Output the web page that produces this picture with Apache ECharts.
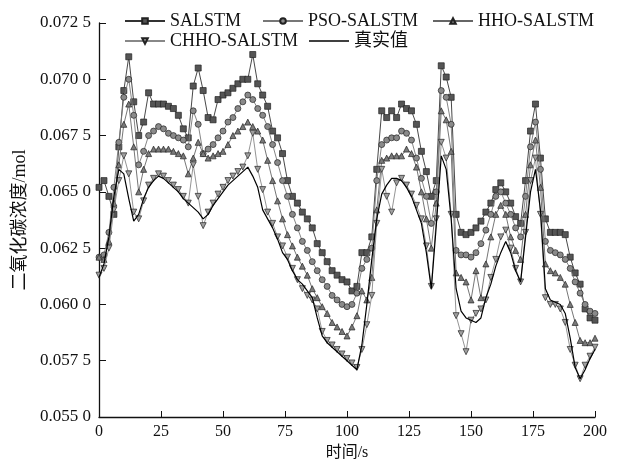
<!DOCTYPE html>
<html>
<head>
<meta charset="utf-8">
<script src="https://cdn.jsdelivr.net/npm/echarts@6/dist/echarts.min.js"></script>
<style>
html,body{margin:0;padding:0;background:#fff;}
#chart{width:622px;height:461px;}
</style>
</head>
<body>
<div id="chart"></div>
<script>
const time = [0,2,4,6,8,10,12,14,16,18,20,22,24,26,28,30,32,34,36,38,40,42,44,46,48,50,52,54,56,58,60,62,64,66,68,70,72,74,76,78,80,82,84,86,88,90,92,94,96,98,100,102,104,106,108,110,112,114,116,118,120,122,124,126,128,130,132,134,136,138,140,142,144,146,148,150,152,154,156,158,160,162,164,166,168,170,172,174,176,178,180,182,184,186,188,190,192,194,196,198,200];

const salstm = [0.0652,0.0655,0.0648,0.0640,0.0670,0.0695,0.0710,0.0690,0.0675,0.0681,0.0694,0.0689,0.0689,0.0689,0.0688,0.0687,0.0684,0.0678,0.0674,0.0697,0.0705,0.0695,0.0683,0.0682,0.0691,0.0693,0.0694,0.0696,0.0698,0.0700,0.0700,0.0711,0.0698,0.0693,0.0688,0.0677,0.0674,0.0667,0.0655,0.0648,0.0645,0.0641,0.0638,0.0634,0.0627,0.0623,0.0619,0.0615,0.0613,0.0611,0.0610,0.0606,0.0608,0.0623,0.0623,0.0630,0.0660,0.0686,0.0683,0.0686,0.0683,0.0689,0.0687,0.0686,0.0680,0.0668,0.0659,0.0648,0.0655,0.0706,0.0701,0.0692,0.0640,0.0632,0.0631,0.0632,0.0634,0.0637,0.0641,0.0645,0.0651,0.0654,0.0650,0.0645,0.0639,0.0636,0.0655,0.0677,0.0689,0.0665,0.0638,0.0632,0.0632,0.0632,0.0631,0.0621,0.0614,0.0609,0.0598,0.0594,0.0593];

const psoSalstm = [0.0621,0.0622,0.0632,0.0652,0.0672,0.0692,0.0700,0.0684,0.0662,0.0668,0.0675,0.0677,0.0679,0.0678,0.0676,0.0675,0.0674,0.0673,0.0670,0.0686,0.0680,0.0667,0.0669,0.0671,0.0674,0.0677,0.0681,0.0683,0.0687,0.0690,0.0693,0.0691,0.0687,0.0684,0.0679,0.0671,0.0663,0.0655,0.0648,0.0640,0.0634,0.0628,0.0624,0.0619,0.0615,0.0611,0.0608,0.0604,0.0602,0.0600,0.0599,0.0600,0.0605,0.0616,0.0620,0.0625,0.0655,0.0671,0.0673,0.0674,0.0674,0.0677,0.0676,0.0673,0.0665,0.0656,0.0648,0.0636,0.0650,0.0695,0.0692,0.0680,0.0624,0.0622,0.0622,0.0621,0.0623,0.0627,0.0633,0.0640,0.0648,0.0650,0.0645,0.0640,0.0634,0.0630,0.0648,0.0670,0.0681,0.0660,0.0628,0.0624,0.0623,0.0622,0.0620,0.0616,0.0610,0.0605,0.0600,0.0597,0.0596];

const hhoSalstm = [0.0621,0.0620,0.0628,0.0645,0.0662,0.0680,0.0689,0.0670,0.0650,0.0660,0.0667,0.0669,0.0669,0.0669,0.0669,0.0668,0.0667,0.0666,0.0658,0.0665,0.0672,0.0667,0.0665,0.0666,0.0667,0.0668,0.0671,0.0675,0.0677,0.0679,0.0681,0.0679,0.0677,0.0673,0.0664,0.0655,0.0646,0.0638,0.0631,0.0626,0.0621,0.0617,0.0613,0.0607,0.0603,0.0599,0.0596,0.0592,0.0590,0.0588,0.0586,0.0590,0.0595,0.0606,0.0602,0.0612,0.0642,0.0664,0.0665,0.0666,0.0666,0.0666,0.0669,0.0667,0.0661,0.0650,0.0638,0.0625,0.0645,0.0686,0.0682,0.0668,0.0614,0.0612,0.0610,0.0602,0.0615,0.0603,0.0618,0.0630,0.0640,0.0644,0.0640,0.0630,0.0624,0.0620,0.0640,0.0662,0.0673,0.0652,0.0618,0.0615,0.0614,0.0612,0.0609,0.0600,0.0592,0.0584,0.0583,0.0583,0.0585];

const chhoSalstm = [0.0613,0.0616,0.0625,0.0642,0.0655,0.0666,0.0658,0.0641,0.0638,0.0646,0.0653,0.0656,0.0658,0.0657,0.0655,0.0653,0.0651,0.0648,0.0645,0.0662,0.0648,0.0635,0.0641,0.0645,0.0649,0.0652,0.0655,0.0657,0.0659,0.0661,0.0666,0.0676,0.0660,0.0651,0.0641,0.0636,0.0630,0.0626,0.0621,0.0616,0.0611,0.0607,0.0604,0.0602,0.0598,0.0588,0.0584,0.0582,0.0580,0.0578,0.0576,0.0574,0.0572,0.0580,0.0591,0.0604,0.0636,0.0660,0.0648,0.0641,0.0654,0.0656,0.0653,0.0649,0.0644,0.0638,0.0626,0.0608,0.0638,0.0672,0.0665,0.0640,0.0595,0.0587,0.0579,0.0593,0.0596,0.0598,0.0602,0.0612,0.0620,0.0630,0.0633,0.0625,0.0616,0.0610,0.0632,0.0655,0.0665,0.0640,0.0603,0.0600,0.0600,0.0598,0.0592,0.0580,0.0573,0.0567,0.0573,0.0577,0.0581];

const actual = [0.0612,0.0618,0.0630,0.0648,0.0660,0.0658,0.0647,0.0637,0.0640,0.0647,0.0652,0.0655,0.0657,0.0656,0.0654,0.0652,0.0650,0.0647,0.0645,0.0643,0.0641,0.0638,0.0640,0.0644,0.0647,0.0650,0.0653,0.0655,0.0657,0.0659,0.0661,0.0657,0.0652,0.0642,0.0638,0.0634,0.0629,0.0623,0.0620,0.0615,0.0611,0.0609,0.0606,0.0603,0.0594,0.0586,0.0583,0.0581,0.0579,0.0577,0.0575,0.0573,0.0571,0.0582,0.0600,0.0620,0.0638,0.0649,0.0653,0.0656,0.0656,0.0655,0.0652,0.0648,0.0642,0.0636,0.0623,0.0607,0.0635,0.0666,0.0660,0.0638,0.0607,0.0597,0.0594,0.0593,0.0592,0.0594,0.0603,0.0609,0.0617,0.0623,0.0628,0.0623,0.0615,0.0610,0.0630,0.0650,0.0660,0.0642,0.0607,0.0602,0.0601,0.0600,0.0596,0.0585,0.0572,0.0567,0.0571,0.0576,0.0580];

function pairs(ys){ return time.map((t,i)=>[t, ys[i]]); }

const serif = '"Liberation Serif","Times New Roman","DejaVu Serif",serif';
const cjk = '"Liberation Serif","Noto Sans CJK SC",serif';

function lineSeries(name, ys, sym, lineColor, fill, rotate, size, z){
  return {
    name: name, type: 'line', data: pairs(ys),
    symbol: sym, symbolSize: size, symbolRotate: rotate || 0,
    showSymbol: true,
    lineStyle: {color: lineColor, width: 0.9},
    itemStyle: {color: fill, borderColor: '#222', borderWidth: 0.7},
    z: z, animation: false
  };
}

function legendAt(name, left, top, extra){
  return Object.assign({
    data: [name], left: left, top: top, itemWidth: 40, itemHeight: 7, itemGap: 0,
    textStyle: {fontFamily: cjk, fontSize: 18, color: '#111'},
    padding: 0
  }, extra || {});
}

const chart = echarts.init(document.getElementById('chart'), null, {renderer: 'canvas'});
chart.setOption({
  backgroundColor: '#fff',
  animation: false,
  legend: [
    legendAt('SALSTM', 124, 12),
    legendAt('PSO-SALSTM', 262, 12),
    legendAt('HHO-SALSTM', 432, 12),
    legendAt('CHHO-SALSTM', 124, 32),
    legendAt('真实值', 309, 32, {icon: 'rect', itemHeight: 1.3, itemStyle: {color: '#000'}})
  ],
  grid: {left: 99, right: 27, top: 23, bottom: 44, containLabel: false, outerBoundsMode: 'none'},
  xAxis: {
    type: 'value', min: 0, max: 200, interval: 25,
    name: '时间/s', nameLocation: 'middle', nameGap: 21,
    nameTextStyle: {fontFamily: cjk, fontSize: 16, color: '#111'},
    axisLine: {lineStyle: {color: '#111', width: 1.3}},
    axisTick: {inside: true, length: 6, lineStyle: {color: '#111'}},
    axisLabel: {fontFamily: serif, fontSize: 16, color: '#111', margin: 7},
    splitLine: {show: false}
  },
  yAxis: {
    type: 'value', min: 0.055, max: 0.0725, interval: 0.0025,
    name: '二氧化碳浓度/mol', nameLocation: 'middle', nameGap: 70, nameRotate: 90,
    nameTextStyle: {fontFamily: cjk, fontSize: 18, color: '#111'},
    axisLine: {show: true, lineStyle: {color: '#111', width: 1.3}},
    axisTick: {show: true, inside: true, length: 7, lineStyle: {color: '#111'}},
    axisLabel: {fontFamily: serif, fontSize: 17, color: '#111', margin: 8,
      formatter: function(v){ const s = v.toFixed(4); return s.slice(0,5) + ' ' + s.slice(5); }},
    splitLine: {show: false}
  },
  series: [
    lineSeries('SALSTM', salstm, 'rect', '#333', '#555', 0, 6, 2),
    lineSeries('PSO-SALSTM', psoSalstm, 'circle', '#777', '#8a8a8a', 0, 6, 3),
    lineSeries('HHO-SALSTM', hhoSalstm, 'triangle', '#666', '#7a7a7a', 0, 6, 4),
    lineSeries('CHHO-SALSTM', chhoSalstm, 'triangle', '#888', '#a0a0a0', 180, 6, 5),
    {name: '真实值', type: 'line', data: pairs(actual), symbol: 'none', showSymbol: false,
     lineStyle: {color: '#000', width: 1.2}, itemStyle: {color: '#000'}, z: 6, animation: false}
  ]
});
</script>
</body>
</html>
